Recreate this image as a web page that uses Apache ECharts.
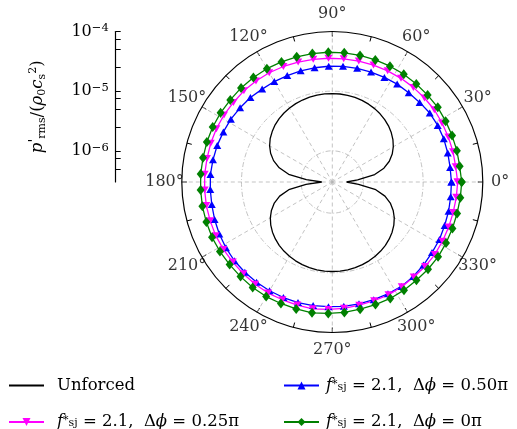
<!DOCTYPE html>
<html>
<head>
<meta charset="utf-8">
<script src="https://cdn.jsdelivr.net/npm/echarts@6/dist/echarts.min.js"></script>
<style>
  html, body { margin: 0; padding: 0; background: #fff; }
  #chart { width: 517px; height: 429px; }
</style>
</head>
<body>
<div id="chart"></div>
<script>
// Radial range of the far-field pressure amplitude (log scale)
const radialMin = 3e-7;
const radialMax = 1e-4;

// Scale bar ticks
const scaleMajor = [1e-6, 1e-5, 1e-4];
const scaleMinor = [5e-7, 7.5e-7, 2.5e-6, 5e-6, 7.5e-6, 2.5e-5, 5e-5, 7.5e-5];

// Polar angle tick labels (degrees)
const angleTicks = [0, 30, 60, 90, 120, 150, 180, 210, 240, 270, 300, 330];

// Unforced jet: directivity angle (deg) and p'_rms / (rho0 c_s^2)
const unforcedAngle = [
  0, 5, 10, 15, 20, 25, 30, 35, 40, 45, 50, 55, 60, 65, 70, 75, 80, 85, 90,
  95, 100, 105, 110, 115, 120, 125, 130, 135, 140, 145, 150, 155, 160, 165, 170, 175, 180,
  185, 190, 195, 200, 205, 210, 215, 220, 225, 230, 235, 240, 245, 250, 255, 260, 265, 270,
  275, 280, 285, 290, 295, 300, 305, 310, 315, 320, 325, 330, 335, 340, 345, 350, 355, 360
];
const unforcedP = [
  5.2e-7, 8.0e-7, 1.58e-6, 2.36e-6, 3.12e-6, 3.85e-6, 4.55e-6, 5.22e-6, 5.85e-6, 6.44e-6,
  6.98e-6, 7.46e-6, 7.89e-6, 8.26e-6, 8.56e-6, 8.80e-6, 8.97e-6, 9.08e-6, 9.12e-6,
  9.10e-6, 9.02e-6, 8.90e-6, 8.70e-6, 8.45e-6, 8.13e-6, 7.75e-6, 7.30e-6, 6.80e-6, 6.20e-6,
  5.60e-6, 4.90e-6, 4.15e-6, 3.35e-6, 2.50e-6, 1.66e-6, 8.2e-7, 4.5e-7,
  8.3e-7, 1.65e-6, 2.46e-6, 3.25e-6, 4.01e-6, 4.75e-6, 5.45e-6, 6.11e-6, 6.72e-6, 7.28e-6,
  7.78e-6, 8.23e-6, 8.61e-6, 8.93e-6, 9.18e-6, 9.36e-6, 9.46e-6, 9.50e-6,
  9.46e-6, 9.36e-6, 9.18e-6, 8.93e-6, 8.61e-6, 8.23e-6, 7.78e-6, 7.28e-6, 6.72e-6, 6.11e-6,
  5.45e-6, 4.75e-6, 4.01e-6, 3.25e-6, 2.46e-6, 1.65e-6, 8.3e-7, 5.2e-7
];

// Forced cases: shared directivity angles (deg)
const forcedAngle = [
  0, 7.06, 14.12, 21.18, 28.24, 35.29, 42.35, 49.41, 56.47, 63.53, 70.59, 77.65, 84.71,
  91.76, 98.82, 105.88, 112.94, 120, 127.06, 134.12, 141.18, 148.24, 155.29, 162.35, 169.41,
  176.47, 183.53, 190.59, 197.65, 204.71, 211.76, 218.82, 225.88, 232.94, 240, 247.06,
  254.12, 261.18, 268.24, 275.29, 282.35, 289.41, 296.47, 303.53, 310.59, 317.65, 324.71,
  331.76, 338.82, 345.88, 352.94, 360
];
// f*_sj = 2.1, delta phi = 0.50 pi
const forcedP050 = [
  2.98e-5, 2.93e-5, 2.97e-5, 3.03e-5, 3.04e-5, 3.01e-5, 2.87e-5, 2.79e-5, 2.79e-5, 2.73e-5,
  2.70e-5, 2.68e-5, 2.66e-5, 2.62e-5, 2.60e-5, 2.60e-5, 2.60e-5, 2.64e-5, 2.68e-5, 2.81e-5,
  2.89e-5, 3.00e-5, 3.07e-5, 3.17e-5, 3.25e-5, 3.34e-5, 3.36e-5, 3.41e-5, 3.53e-5, 3.65e-5,
  3.75e-5, 3.83e-5, 3.83e-5, 3.83e-5, 3.82e-5, 3.80e-5, 3.78e-5, 3.75e-5, 3.70e-5, 3.72e-5,
  3.70e-5, 3.70e-5, 3.72e-5, 3.77e-5, 3.65e-5, 3.50e-5, 3.35e-5, 3.28e-5, 3.14e-5, 3.07e-5,
  3.00e-5, 2.98e-5
];
// f*_sj = 2.1, delta phi = 0.25 pi
const forcedP025 = [
  3.79e-5, 3.64e-5, 3.66e-5, 3.66e-5, 3.68e-5, 3.74e-5, 3.70e-5, 3.68e-5, 3.65e-5, 3.62e-5,
  3.59e-5, 3.57e-5, 3.56e-5, 3.57e-5, 3.62e-5, 3.70e-5, 3.80e-5, 3.91e-5, 3.98e-5, 4.04e-5,
  4.02e-5, 4.09e-5, 4.13e-5, 4.13e-5, 4.12e-5, 4.17e-5, 4.18e-5, 4.22e-5, 4.22e-5, 4.25e-5,
  4.21e-5, 4.15e-5, 4.16e-5, 4.21e-5, 4.24e-5, 4.18e-5, 4.19e-5, 4.25e-5, 4.11e-5, 4.02e-5,
  3.90e-5, 3.87e-5, 3.89e-5, 3.84e-5, 3.77e-5, 3.81e-5, 3.82e-5, 3.75e-5, 3.71e-5, 3.69e-5,
  3.73e-5, 3.79e-5
];
// f*_sj = 2.1, delta phi = 0 pi
const forcedP000 = [
  4.43e-5, 4.25e-5, 4.27e-5, 4.27e-5, 4.30e-5, 4.40e-5, 4.36e-5, 4.38e-5, 4.42e-5, 4.42e-5,
  4.43e-5, 4.46e-5, 4.48e-5, 4.50e-5, 4.53e-5, 4.56e-5, 4.61e-5, 4.68e-5, 4.70e-5, 4.72e-5,
  4.70e-5, 4.78e-5, 4.83e-5, 4.83e-5, 4.81e-5, 4.87e-5, 4.88e-5, 4.93e-5, 4.93e-5, 4.97e-5,
  4.92e-5, 4.85e-5, 4.86e-5, 4.92e-5, 4.95e-5, 4.88e-5, 4.90e-5, 4.97e-5, 4.80e-5, 4.70e-5,
  4.56e-5, 4.52e-5, 4.55e-5, 4.49e-5, 4.41e-5, 4.45e-5, 4.46e-5, 4.38e-5, 4.33e-5, 4.31e-5,
  4.36e-5, 4.43e-5
];

const NAME_UNF = 'Unforced';
const NAME_050 = 'fsj = 2.1, Δϕ = 0.50π';
const NAME_025 = 'fsj = 2.1, Δϕ = 0.25π';
const NAME_000 = 'fsj = 2.1, Δϕ = 0π';
const legendRich = {
  [NAME_UNF]: '{n|Unforced}',
  [NAME_050]: '{i|f}{sup|*}{sub|sj}{n| = 2.1,  Δ}{i|ϕ}{n| = 0.50π}',
  [NAME_025]: '{i|f}{sup|*}{sub|sj}{n| = 2.1,  Δ}{i|ϕ}{n| = 0.25π}',
  [NAME_000]: '{i|f}{sup|*}{sub|sj}{n| = 2.1,  Δ}{i|ϕ}{n| = 0π}'
};

const FONT = 'DejaVu Serif';
const CX = 332.3, CY = 182, R = 150.5;

const lmin = Math.log10(radialMin), lmax = Math.log10(radialMax);
// radius used to place the angle labels just outside the rim
const labelRadius = Math.pow(10, lmin + 1.115 * (lmax - lmin));

function pairs(vals, angs) { return vals.map((v, i) => [v, angs[i]]); }

function richSet(spacer) {
  return {
    g: { width: spacer },
    n: { fontFamily: FONT, fontSize: 16.5, color: '#000', lineHeight: 14 },
    i: { fontFamily: FONT, fontStyle: 'italic', fontSize: 16.5, color: '#000', lineHeight: 14 },
    sup: { fontFamily: FONT, fontSize: 11, color: '#000', verticalAlign: 'top', lineHeight: 9 },
    sub: { fontFamily: FONT, fontSize: 11, color: '#000', verticalAlign: 'bottom', lineHeight: 8 }
  };
}

// one legend entry per component, laid out as a 2 x 2 block
function legendEntry(item, left, rowCenter, spacer) {
  return {
    left: left, top: rowCenter - 7, orient: 'horizontal', padding: 0,
    itemWidth: 35, itemHeight: 10,
    data: [item],
    formatter: name => '{g|}' + legendRich[name],
    textStyle: { rich: richSet(spacer) },
    selectedMode: false
  };
}

const chart = echarts.init(document.getElementById('chart'), null, { renderer: 'canvas' });

const option = {
  animation: false,
  backgroundColor: '#fff',
  polar: { center: [CX, CY], radius: R },
  angleAxis: {
    type: 'value', min: 0, max: 360, interval: 30,
    startAngle: 0, clockwise: false,
    axisLine: { show: true, lineStyle: { color: '#000', width: 1.2 } },
    axisTick: { show: true, inside: true, length: 5, lineStyle: { color: '#000', width: 1 } },
    minorTick: { show: true, splitNumber: 2, length: 5, lineStyle: { color: '#000', width: 1 } },
    axisLabel: { show: false },
    splitLine: { show: true, lineStyle: { color: '#b4b4b4', width: 0.8, type: [4, 3] } }
  },
  radiusAxis: {
    type: 'log', min: radialMin, max: radialMax,
    axisLine: { show: false }, axisTick: { show: false }, axisLabel: { show: false },
    splitLine: {
      show: true,
      lineStyle: {
        color: ['rgba(0,0,0,0)', '#b4b4b4', '#b4b4b4', 'rgba(0,0,0,0)'],
        width: 0.8, type: [5, 2, 1, 2]
      }
    }
  },
  grid: { left: 115.7, top: 31.5, width: 20, height: 150.5 },
  xAxis: { type: 'value', show: false, min: 0, max: 1 },
  yAxis: {
    type: 'value', min: lmin, max: lmax, position: 'left',
    axisLine: { show: true, lineStyle: { color: '#000', width: 1.2 } },
    axisTick: {
      show: true, inside: true, length: 5,
      customValues: scaleMajor.concat(scaleMinor).map(Math.log10),
      lineStyle: { color: '#000', width: 1 }
    },
    axisLabel: {
      customValues: scaleMajor.map(Math.log10),
      margin: 7,
      formatter: v => '{b|10}{e|−' + Math.round(-v) + '}',
      rich: {
        b: { fontFamily: FONT, fontSize: 16, color: '#000', lineHeight: 18 },
        e: { fontFamily: FONT, fontSize: 11.5, color: '#000', verticalAlign: 'top', lineHeight: 12 }
      }
    },
    splitLine: { show: false },
    name: "{i|p}{pr|'}{sub|rms}{n|/(}{i|ρ}{sub|0}{i|c}{sub|s}{sup|2}{n|)}",
    nameLocation: 'middle', nameRotate: 90, nameGap: 68,
    nameTextStyle: {
      rich: {
        n: { fontFamily: FONT, fontSize: 16.5, color: '#000', lineHeight: 20 },
        i: { fontFamily: FONT, fontStyle: 'italic', fontSize: 16.5, color: '#000', lineHeight: 20 },
        pr: { fontFamily: 'DejaVu Sans', fontSize: 14, color: '#000', verticalAlign: 'top', lineHeight: 14 },
        sup: { fontFamily: FONT, fontSize: 11, color: '#000', verticalAlign: 'top', lineHeight: 12 },
        sub: { fontFamily: FONT, fontSize: 11, color: '#000', verticalAlign: 'bottom', lineHeight: 12 }
      }
    }
  },
  legend: [
    legendEntry({ name: NAME_UNF, itemStyle: { opacity: 0 } }, 8, 384, 8),
    legendEntry(NAME_025, 8, 420.5, 8),
    legendEntry(NAME_050, 283, 384, 2),
    legendEntry(NAME_000, 283, 420.5, 2)
  ],
  series: [
    {
      name: NAME_UNF, type: 'line', coordinateSystem: 'polar',
      data: pairs(unforcedP, unforcedAngle),
      symbol: 'none', lineStyle: { color: '#000', width: 1.3 },
      itemStyle: { color: '#000' }
    },
    {
      name: NAME_050, type: 'line', coordinateSystem: 'polar',
      data: pairs(forcedP050, forcedAngle),
      symbol: 'triangle', symbolSize: [8, 7], showAllSymbol: true,
      lineStyle: { color: '#0000ff', width: 1.3 },
      itemStyle: { color: '#0000ff' }
    },
    {
      name: NAME_025, type: 'line', coordinateSystem: 'polar',
      data: pairs(forcedP025, forcedAngle),
      symbol: 'triangle', symbolRotate: 180, symbolSize: [8, 7], showAllSymbol: true,
      lineStyle: { color: '#ff00ff', width: 1.3 },
      itemStyle: { color: '#ff00ff' }
    },
    {
      name: NAME_000, type: 'line', coordinateSystem: 'polar',
      data: pairs(forcedP000, forcedAngle),
      symbol: 'diamond', symbolSize: [8, 10], showAllSymbol: true,
      lineStyle: { color: '#008000', width: 1.3 },
      itemStyle: { color: '#008000' }
    },
    {
      name: 'angleLabels', type: 'scatter', coordinateSystem: 'polar',
      data: angleTicks.map(a => [labelRadius, a]),
      symbolSize: 1, clip: false, silent: true,
      itemStyle: { color: 'rgba(0,0,0,0)' },
      label: {
        show: true, position: 'inside',
        formatter: p => p.data[1] + '°',
        fontFamily: FONT, fontSize: 16, color: '#000'
      }
    }
  ]
};

chart.setOption(option);
</script>
</body>
</html>
